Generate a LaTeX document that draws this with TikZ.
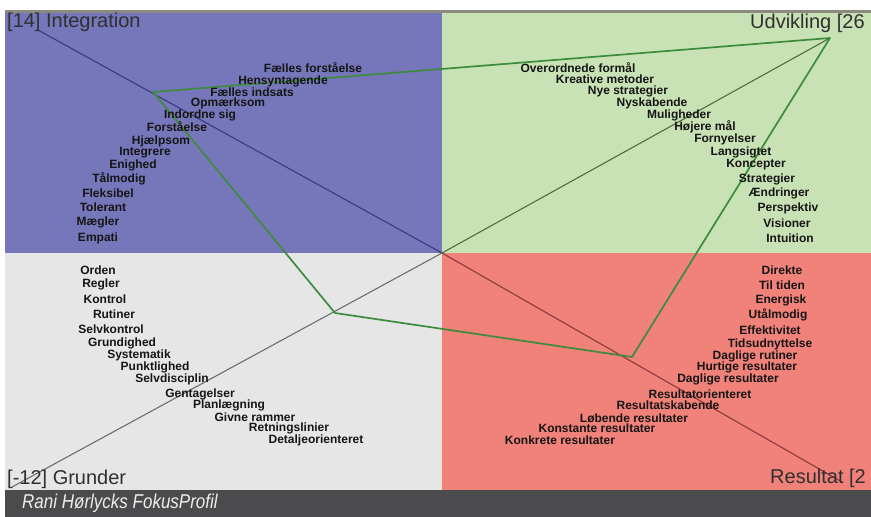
\documentclass[tikz,border=0pt]{standalone}
\usepackage{fontspec}
\setmainfont{Liberation Sans}
\definecolor{qblue}{HTML}{7676BA}
\definecolor{qgreen}{HTML}{C9E2B5}
\definecolor{qgray}{HTML}{E6E6E6}
\definecolor{qred}{HTML}{F0827A}
\definecolor{barc}{HTML}{4B4B4D}
\definecolor{topline}{HTML}{8A8A80}
\definecolor{polyc}{HTML}{3D8B3D}
\definecolor{diagblue}{HTML}{3A3A82}
\definecolor{diagred}{HTML}{8A3A3A}
\definecolor{diaggray}{HTML}{6E6E6E}
\definecolor{diaggreen}{HTML}{4E6E3E}
\definecolor{wordc}{HTML}{151515}
\definecolor{titlec}{HTML}{303030}
\begin{document}
\begin{tikzpicture}[x=1pt,y=-1pt,
  word/.style={inner sep=0pt,text=wordc,font=\fontsize{12}{14}\selectfont\bfseries},
  corner/.style={inner sep=0pt,anchor=west,text=titlec,font=\fontsize{20}{24}\selectfont},
  diag/.style={line width=1.1pt},
  profile/.style={draw=polyc,line width=1.7pt,line join=round}]
\useasboundingbox (0,0) rectangle (871,517);
\fill[white] (0,0) rectangle (871,517);
% quadrants
\fill[qblue] (5,12) rectangle (442,253);
\fill[qgreen] (442,12) rectangle (871,253);
\fill[qgray] (5,253) rectangle (442,490);
\fill[qred] (442,253) rectangle (871,490);
\fill[topline] (5,10) rectangle (871,12.5);
\fill[barc] (5,490) rectangle (871,517);
% key points
\coordinate (tl) at (38,30);
\coordinate (br) at (842,482);
\coordinate (bl) at (12,487);
\coordinate (tr) at (830,38);
\coordinate (c) at (442,253);
\coordinate (pI) at (153,92);
\coordinate (pU) at (830,38);
\coordinate (pR) at (632,357);
\coordinate (pG) at (335,313);
% diagonals
\draw[diag,draw=diagblue] (tl) -- (c);
\draw[diag,draw=diagred] (c) -- (br);
\draw[diag,draw=diaggray] (bl) -- (c);
\draw[diag,draw=diaggreen] (c) -- (tr);
% profile
\draw[profile] (pI) -- (pU) -- (pR) -- (pG) -- cycle;
% corner labels
\node[corner] (cI) at (7,22) {[14] Integration};
\node[corner] (cU) at (750,23) {Udvikling [26};
\node[corner] (cG) at (7,479) {[-12] Grunder};
\node[corner] (cR) at (770,478) {Resultat [2};
% Integration words
\node[word] (i1) at (313,68) {Fælles forståelse};
\node[word] (i2) at (283,81) {Hensyntagende};
\node[word] (i3) at (252,92) {Fælles indsats};
\node[word] (i4) at (228,103.5) {Opmærksom};
\node[word] (i5) at (200,115) {Indordne sig};
\node[word] (i6) at (177,127) {Forståelse};
\node[word] (i7) at (161,141) {Hjælpsom};
\node[word] (i8) at (145,153) {Integrere};
\node[word] (i9) at (133,165) {Enighed};
\node[word] (i10) at (119,179) {Tålmodig};
\node[word] (i11) at (108,193) {Fleksibel};
\node[word] (i12) at (103,207) {Tolerant};
\node[word] (i13) at (98,222) {Mægler};
\node[word] (i14) at (98,238) {Empati};
% Udvikling words
\node[word] (u1) at (578,67.5) {Overordnede formål};
\node[word] (u2) at (605,79.5) {Kreative metoder};
\node[word] (u3) at (628,91.5) {Nye strategier};
\node[word] (u4) at (652,103) {Nyskabende};
\node[word] (u5) at (679,115) {Muligheder};
\node[word] (u6) at (705,127) {Højere mål};
\node[word] (u7) at (725,139) {Fornyelser};
\node[word] (u8) at (741,152) {Langsigtet};
\node[word] (u9) at (756,165) {Koncepter};
\node[word] (u10) at (767,179) {Strategier};
\node[word] (u11) at (779,193) {Ændringer};
\node[word] (u12) at (788,208) {Perspektiv};
\node[word] (u13) at (787,223) {Visioner};
\node[word] (u14) at (790,238) {Intuition};
% Grunder words
\node[word] (g1) at (98,270) {Orden};
\node[word] (g2) at (101,284) {Regler};
\node[word] (g3) at (105,299) {Kontrol};
\node[word] (g4) at (114,314) {Rutiner};
\node[word] (g5) at (111,329) {Selvkontrol};
\node[word] (g6) at (122,343) {Grundighed};
\node[word] (g7) at (139,355.5) {Systematik};
\node[word] (g8) at (155,367.5) {Punktlighed};
\node[word] (g9) at (172,379) {Selvdisciplin};
\node[word] (g10) at (200,394) {Gentagelser};
\node[word] (g11) at (229,405.5) {Planlægning};
\node[word] (g12) at (255,417) {Givne rammer};
\node[word] (g13) at (289,428.5) {Retningslinier};
\node[word] (g14) at (316,440.5) {Detaljeorienteret};
% Resultat words
\node[word] (r1) at (782,270) {Direkte};
\node[word] (r2) at (782,285) {Til tiden};
\node[word] (r3) at (781,300) {Energisk};
\node[word] (r4) at (778,315) {Utålmodig};
\node[word] (r5) at (770,330) {Effektivitet};
\node[word] (r6) at (770,344) {Tidsudnyttelse};
\node[word] (r7) at (755,356.5) {Daglige rutiner};
\node[word] (r8) at (747,367.5) {Hurtige resultater};
\node[word] (r9) at (728,379) {Daglige resultater};
\node[word] (r10) at (700,394) {Resultatorienteret};
\node[word] (r11) at (668,405.5) {Resultatskabende};
\node[word] (r12) at (634,418) {Løbende resultater};
\node[word] (r13) at (597,428.5) {Konstante resultater};
\node[word] (r14) at (560,440) {Konkrete resultater};
% bar caption
\node[inner sep=0pt,anchor=west,text=white!93!black,font=\fontsize{20}{24}\selectfont\itshape] (cap) at (22,503) {\scalebox{0.85}[1]{Rani Hørlycks FokusProfil}};
\end{tikzpicture}
\end{document}
